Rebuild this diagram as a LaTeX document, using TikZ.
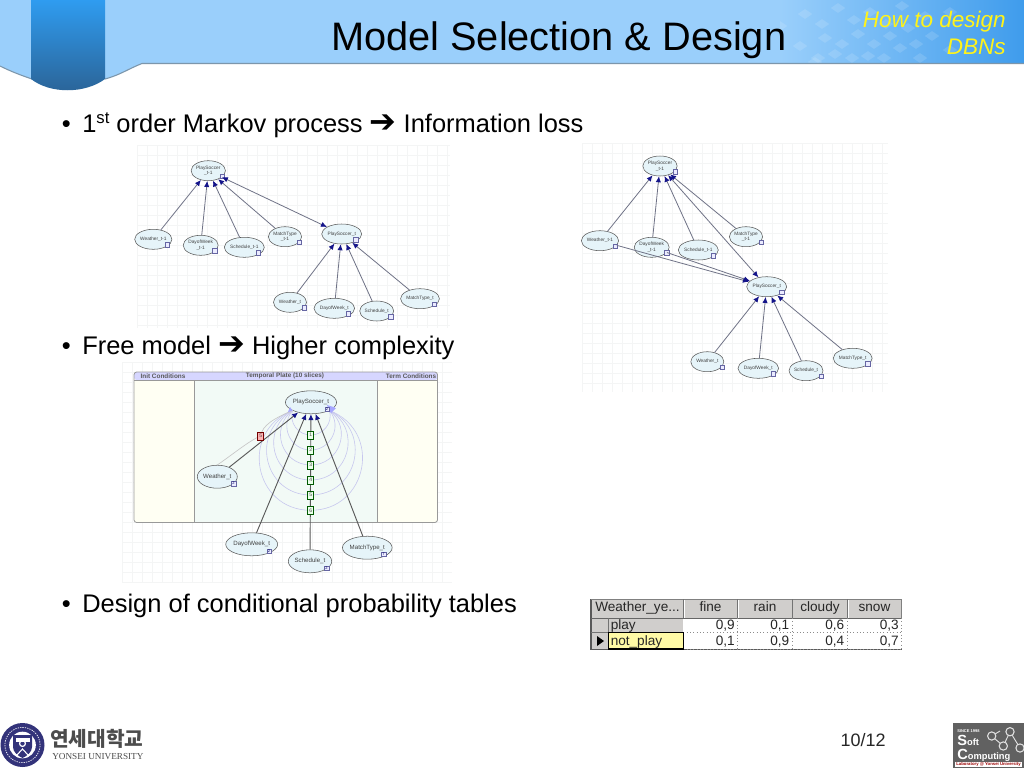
\documentclass[tikz,border=0pt]{standalone}
\usepackage{fontspec}
\setmainfont{Liberation Sans}
\newfontfamily\symf{DejaVu Sans}
\newfontfamily\krf{Noto Sans CJK KR}
\newfontfamily\serf{Liberation Serif}
\usetikzlibrary{arrows.meta,shapes.geometric}
\definecolor{hdA}{HTML}{9ACFFB}
\definecolor{hdB}{HTML}{3F9CEC}
\definecolor{tabA}{HTML}{2F9CF0}
\definecolor{tabB}{HTML}{2B6396}
\definecolor{hdline}{HTML}{7C96AB}
\definecolor{nodefill}{HTML}{E6F4F9}
\definecolor{edgecol}{HTML}{6F7286}
\definecolor{tipcol}{HTML}{14148A}
\definecolor{gridcol}{HTML}{F4F5F5}
\definecolor{tblgrey}{HTML}{D0CECC}
\definecolor{plateside}{HTML}{FFFFF3}
\definecolor{platemid}{HTML}{F2FAF6}
\tikzset{
  x=0.75pt,y=-0.75pt,
  bnode/.style={ellipse,draw=black!65,line width=.4pt,fill=nodefill,minimum width=24.75pt,minimum height=15pt,inner sep=0pt,align=center,font=\fontsize{3.6}{4.4}\selectfont,text=black!75},
  bignode/.style={bnode,minimum width=30pt,minimum height=17.25pt,font=\fontsize{4.6}{5.5}\selectfont},
  link/.style={draw=edgecol,line width=.6pt,-{Latex[length=4.5pt,width=4pt,color=tipcol]}},
  linkb/.style={draw=edgecol,line width=.6pt,{Latex[length=4.5pt,width=4pt,color=tipcol]}-{Latex[length=4.5pt,width=4pt,color=tipcol]}},
  tinybox/.style={draw=blue!40!black!60,fill=blue!8,line width=.35pt,minimum size=3.4pt,inner sep=0pt,font=\fontsize{3}{3}\selectfont,text=blue!40!black},
  numbox/.style={draw=green!35!black,fill=green!8,line width=.4pt,minimum width=4.5pt,minimum height=6pt,inner sep=0pt,font=\fontsize{3.8}{4}\selectfont,text=black!70},
  loopline/.style={draw=black!30!blue!22,line width=.45pt},
  body/.style={anchor=base west,font=\fontsize{19.1}{23}\selectfont,inner sep=0pt},
  cell/.style={anchor=base east,font=\fontsize{10.2}{12}\selectfont,inner sep=0pt,text=black!85},
  hcell/.style={anchor=base,font=\fontsize{10.2}{12}\selectfont,inner sep=0pt,text=black!85},
}
\newcommand{\gridlines}[4]{%
  \foreach \gx in {#1}{\draw[gridcol,line width=.4pt] (\gx,#2) -- (\gx,#4);}%
  \foreach \gy in {#3}{\draw[gridcol,line width=.4pt] (#2,\gy) -- (#2,\gy);}%
}
\newcommand{\gridrows}[3]{%
  \foreach \gy in {#3}{\draw[gridcol,line width=.4pt] (#1,\gy) -- (#2,\gy);}%
}
\newcommand{\gridcols}[3]{%
  \foreach \gx in {#3}{\draw[gridcol,line width=.4pt] (\gx,#1) -- (\gx,#2);}%
}
\begin{document}
\begin{tikzpicture}
\useasboundingbox (0,0) rectangle (1024,768);
\fill[white] (0,0) rectangle (1024,768);
% header band
\fill[hdA] (0,0) rectangle (780,63.5);
\shade[left color=hdA,right color=hdB] (780,0) rectangle (1024,63.5);
\begin{scope}
\clip (780,0) rectangle (1024,62);
\foreach \px/\py in {805/14,822/24,838/8,854/20,870/12,886/24,902/6,825/38,842/44,858/34,874/44,890/36,925/16,908/28,800/46,818/58,835/54,852/58,868/56,884/58,900/48,932/36,916/44,815/62,920/58,950/50,780/26,950/12}{
  \node[diamond,fill=white,opacity=.13,minimum width=11pt,minimum height=7.5pt,inner sep=0pt] at (\px,\py) {};
}
\end{scope}
% band lower edge
\fill[hdA] (0,60) -- (0,66) .. controls (10,71) and (20,75) .. (32,79) -- (105,79) .. controls (120,75) and (128,69) .. (142,63.5) -- (142,60) -- cycle;
\draw[draw=hdline,line width=.8pt] (0,66) .. controls (10,71) and (20,75) .. (32,79);
\draw[draw=hdline,line width=.8pt] (105,79) .. controls (120,75) and (128,69) .. (142,63.5) -- (1024,63.5);
\shade[top color=tabA,bottom color=tabB] (31,0) -- (105,0) -- (105,79) .. controls (85,94) and (50,94) .. (31,79) -- cycle;
% title
\node[anchor=base west,inner sep=0pt,font=\fontsize{29.8}{34}\selectfont] (title) at (331,50) {Model Selection \& Design};
\node[anchor=north east,inner sep=0pt,align=right,text=yellow!90!white,font=\fontsize{16.9}{20.5}\itshape\selectfont] (tag) at (1006,11) {How to design\\DBNs};
% bullets
\node[body] (b1) at (61.5,132) {•\hspace{8.7pt}1\raisebox{.62ex}{\fontsize{12.5}{13}\selectfont st} order Markov process {\symf\fontsize{24}{22}\selectfont ➔} Information loss};
\node[body] (b2) at (61.5,354) {•\hspace{8.7pt}Free model {\symf\fontsize{24}{22}\selectfont ➔} Higher complexity};
\node[body] (b3) at (61.5,612) {•\hspace{8.7pt}Design of conditional probability tables};
% grids
\gridcols{145}{328}{137,147,...,447}
\gridrows{137}{450}{145,155,...,325}
\gridcols{143}{392}{582,592,...,882}
\gridrows{582}{888}{143,153,...,383}
\gridcols{362}{583}{122,132,...,442}
\gridrows{122}{452}{362,372,...,582}
% ---- graph 1
\node[bnode] (a0) at (208.3,170.7) {PlaySoccer\\\_t-1};
\node[bnode] (a1) at (153.3,239.3) {Weather\_t-1};
\node[bnode] (a2) at (200.7,245.3) {DayofWeek\\\_t-1};
\node[bnode] (a3) at (244.3,247.3) {Schedule\_t-1};
\node[bnode] (a4) at (285,236.7) {MatchType\\\_t-1};
\node[bnode] (a5) at (341.7,234) {PlaySoccer\_t};
\node[bnode] (a6) at (290,302.3) {Weather\_t};
\node[bnode] (a7) at (334.3,308.3) {DayofWeek\_t};
\node[bnode] (a8) at (376.7,311) {Schedule\_t};
\node[bnode] (a9) at (420,298.7) {MatchType\_t};
\foreach \n in {0,...,9}{\node[tinybox] at ([shift={(14,5.5)}]a\n.center) {};}
\draw[link] (a1) -- (a0);
\draw[link] (a2) -- (a0);
\draw[link] (a3) -- (a0);
\draw[link] (a4) -- (a0);
\draw[linkb] (a0) -- (a5);
\draw[link] (a6) -- (a5);
\draw[link] (a7) -- (a5);
\draw[link] (a8) -- (a5);
\draw[link] (a9) -- (a5);
% ---- graph 2
\node[bnode] (c0) at (660,166) {PlaySoccer\\\_t-1};
\node[bnode] (c1) at (600,240.7) {Weather\_t-1};
\node[bnode] (c2) at (651.7,247.3) {DayofWeek\\\_t-1};
\node[bnode] (c3) at (698.3,250) {Schedule\_t-1};
\node[bnode] (c4) at (746,236.7) {MatchType\\\_t-1};
\node[bnode] (c5) at (766.7,286.7) {PlaySoccer\_t};
\node[bnode] (c6) at (707.3,361.7) {Weather\_t};
\node[bnode] (c7) at (758.3,368.3) {DayofWeek\_t};
\node[bnode] (c8) at (806,370.7) {Schedule\_t};
\node[bnode] (c9) at (852.7,358.3) {MatchType\_t};
\foreach \n in {0,...,9}{\node[tinybox] at ([shift={(15,5.5)}]c\n.center) {};}
\draw[link] (c1) -- (c0);
\draw[link] (c2) -- (c0);
\draw[link] (c3) -- (c0);
\draw[link] (c4) -- (c0);
\draw[linkb] (c0) -- (c5);
\draw[link] (c1) -- (c5);
\draw[link] (c2) -- (c5);
\draw[link] (c6) -- (c5);
\draw[link] (c7) -- (c5);
\draw[link] (c8) -- (c5);
\draw[link] (c9) -- (c5);
% ---- graph 3 plate
\fill[rounded corners=2pt,fill=plateside] (134,372) rectangle (437.5,522.5);
\fill[platemid] (194.3,380) rectangle (377.3,522.5);
\fill[rounded corners=2pt,fill=blue!16] (134,372) rectangle (437.5,380);
\draw[rounded corners=2pt,draw=black!40,line width=.6pt] (134,372) rectangle (437.5,522.5);
\draw[black!40,line width=.5pt] (134,380) -- (437.5,380) (194.3,380) -- (194.3,522.5) (377.3,380) -- (377.3,522.5);
\node[font=\fontsize{4.8}{5}\bfseries\selectfont,text=black!65,inner sep=0pt] (h1) at (163,375.8) {Init Conditions};
\node[font=\fontsize{4.8}{5}\bfseries\selectfont,text=black!65,inner sep=0pt] (h2) at (285,375.8) {Temporal Plate (10 slices)};
\node[font=\fontsize{4.8}{5}\bfseries\selectfont,text=black!65,inner sep=0pt] (h3) at (411,375.8) {Term Conditions};
\node[bignode] (p0) at (311,402.3) {PlaySoccer\_t};
\node[bignode] (p1) at (217.3,476.7) {Weather\_t};
\node[bignode] (p2) at (251.7,544.3) {DayofWeek\_t};
\node[bignode] (p3) at (310,561.3) {Schedule\_t};
\node[bignode] (p4) at (367.3,547.7) {MatchType\_t};
\coordinate (pl) at (292.5,410.5);
\coordinate (pr) at (329.5,410.5);
\coordinate (q0) at (310.7,435);
\coordinate (q1) at (310.7,450);
\coordinate (q2) at (310.7,465);
\coordinate (q3) at (310.7,480);
\coordinate (q4) at (310.7,495);
\coordinate (q5) at (310.7,510.3);
\coordinate (q6) at (260.7,436);
% self loops of the temporal arcs, through their slice boxes
\foreach \k/\yb in {0/435,1/450,2/465,3/480,4/495,5/510.3}{
  \pgfmathsetmacro{\hh}{\yb-410.5}
  \pgfmathsetmacro{\rr}{(18.5*18.5+\hh*\hh)/(2*\hh)}
  \pgfmathsetmacro{\sw}{atan2(18.5,\rr-\hh)}
  \pgfmathsetmacro{\LL}{4/3*tan(\sw/4)*\rr}
  \pgfmathsetmacro{\cx}{\LL*cos(\sw)}
  \pgfmathsetmacro{\cy}{\LL*sin(\sw)}
  \pgfmathsetmacro{\LLpt}{\LL*.75}
  \draw[loopline] (pl) .. controls +(\cx,\cy) and ([xshift=-\LLpt pt]q\k) .. (q\k)
     .. controls ([xshift=\LLpt pt]q\k) and +(-\cx,\cy) .. (pr);
}
\draw[draw=black!22,line width=.5pt] (p1.north) .. controls (232,455) and (250,440) .. (q6) .. controls (262,425) and (275,418) .. (pl);
\draw[link,line width=.7pt,draw=black!65] (p1) -- (p0);
\draw[link,line width=.7pt,draw=black!65] (p2) -- (p0);
\draw[link,line width=.7pt,draw=black!65] (p3) -- (p0);
\draw[link,line width=.7pt,draw=black!65] (p4) -- (p0);
\fill[blue!35] (292.5,410.5) -- (288,412) -- (290,407) -- cycle;
\fill[blue!35] (329.5,410.5) -- (335,407.5) -- (327,405) -- cycle;
\fill[blue!35] (331,413) -- (336,408) -- (328,408) -- cycle;
\foreach \k/\t in {0/1,1/2,2/3,3/4,4/5,5/6}{\node[numbox] (s\k) at (q\k) {\t};}
\node[numbox,draw=red!45!black,fill=red!30] (s6) at (q6) {5};
\node[tinybox] (t0) at (327,409) {2};
\node[tinybox] (t1) at (233.5,483.5) {2};
\node[tinybox] (t2) at (269,551) {2};
\node[tinybox] (t3) at (326.5,568) {2};
\node[tinybox] (t4) at (383.5,554) {7};
% ---- table
\fill[tblgrey] (591,599) rectangle (901.7,618);
\fill[tblgrey] (591,618) rectangle (608.3,649);
\fill[tblgrey] (608.3,618) rectangle (683.3,632.7);
\fill[yellow!35] (608.3,632.7) rectangle (683.3,649);
\draw[black!65,line width=1pt] (591,599) -- (591,649.5) -- (901.7,649.5);
\draw[black!50,line width=.7pt] (591,599) -- (901.7,599) -- (901.7,618);
\foreach \xx in {683.3,737.7,792,847.3}{\draw[white,line width=.6pt] (\xx+.8,600) -- (\xx+.8,617.5); \draw[black!55,line width=.7pt] (\xx,599) -- (\xx,618);}
\draw[black!60,line width=.7pt] (591,618) -- (901.7,618);
\draw[black!55,line width=.6pt] (608.3,618) -- (608.3,632.7) (591,632.7) -- (683.3,632.7);
\foreach \xx in {737.7,792,847.3,901.7}{\draw[black!45,line width=.5pt,dotted] (\xx,618) -- (\xx,649);}
\draw[black!45,line width=.5pt,dotted] (683.3,632.7) -- (901.7,632.7) (683.3,649) -- (901.7,649);
\draw[black,line width=.9pt] (608.3,632.7) rectangle (683.3,649);
\node[anchor=base west,font=\fontsize{10.2}{12}\selectfont,inner sep=0pt,text=black!85] (t00) at (595,611) {Weather\_ye...};
\node[hcell] (t01) at (710.5,611) {fine};
\node[hcell] (t02) at (765,611) {rain};
\node[hcell] (t03) at (820,611) {cloudy};
\node[hcell] (t04) at (874.5,611) {snow};
\node[anchor=base west,font=\fontsize{10.2}{12}\selectfont,inner sep=0pt,text=black!85] (t10) at (610.5,629) {play};
\node[anchor=base west,font=\fontsize{10.2}{12}\selectfont,inner sep=0pt,text=black!85] (t20) at (610.5,645) {not\_play};
\fill[black] (597,636) -- (604,641) -- (597,646) -- cycle;
\node[cell] (t11) at (735,629) {0,9};
\node[cell] (t12) at (789.5,629) {0,1};
\node[cell] (t13) at (844.5,629) {0,6};
\node[cell] (t14) at (899,629) {0,3};
\node[cell] (t21) at (735,645) {0,1};
\node[cell] (t22) at (789.5,645) {0,9};
\node[cell] (t23) at (844.5,645) {0,4};
\node[cell] (t24) at (899,645) {0,7};
% page number
\node[anchor=base east,inner sep=0pt,font=\fontsize{13.5}{15}\selectfont,text=black!85] (pg) at (886,746) {10/12};
% Yonsei logo
\fill[blue!35!black!80] (22.5,745) circle[radius=16.5pt];
\fill[white] (22.5,745) circle[radius=10pt];
\draw[white,line width=.5pt,dash pattern=on 1pt off .8pt] (22.5,745) circle[radius=13.2pt];
\fill[blue!35!black!80] (13,735) -- (32,735) -- (32,747) .. controls (32,752) and (27,756) .. (22.5,758) .. controls (18,756) and (13,752) .. (13,747) -- cycle;
\fill[white] (15.5,738) rectangle (29.5,742);
\draw[white,line width=.9pt] (22.5,743.5) circle[radius=2.2pt];
\draw[white,line width=.8pt] (16,756) -- (22.5,749) -- (29,756);
\node[anchor=base west,inner sep=0pt,font=\krf\bfseries\fontsize{15.2}{16}\selectfont,text=black!70] (yk) at (50,746.5) {연세대학교};
\node[anchor=base west,inner sep=0pt,font=\serf\fontsize{6.9}{8}\selectfont,text=black!70] (ye) at (52,759) {YONSEI UNIVERSITY};
% Soft Computing logo
\fill[black!62] (953,723) rectangle (1024,768);
\node[anchor=base west,inner sep=0pt,font=\bfseries\fontsize{3}{4}\selectfont,text=white] (s0) at (957,732) {SINCE 1998};
\node[anchor=base west,inner sep=0pt,font=\bfseries\fontsize{8}{9}\selectfont,text=white] (s1) at (957,745) {\fontsize{11}{11}\selectfont S\fontsize{7}{9}\selectfont oft};
\node[anchor=base west,inner sep=0pt,font=\bfseries\fontsize{8}{9}\selectfont,text=white] (s2) at (957,759) {\fontsize{11}{11}\selectfont C\fontsize{7}{9}\selectfont omputing};
\fill[white] (955,761.5) rectangle (1022,767);
\node[inner sep=0pt,font=\bfseries\fontsize{3.2}{4}\selectfont,text=red!60!black] (s3) at (988.5,764.3) {Laboratory @ Yonsei University};
\coordinate (l1) at (991.7,736);
\coordinate (l2) at (1010,731.7);
\coordinate (l3) at (1003.3,746);
\coordinate (l4) at (1020,748);
\draw[black!12,line width=.7pt] (l1) -- (l3) -- (l2) -- (l4) (l1) -- (1000,731);
\foreach \cc in {l1,l2,l3,l4}{\filldraw[draw=black!12,fill=black!62,line width=.8pt] (\cc) circle[radius=3.1pt];}
\end{tikzpicture}
\end{document}
